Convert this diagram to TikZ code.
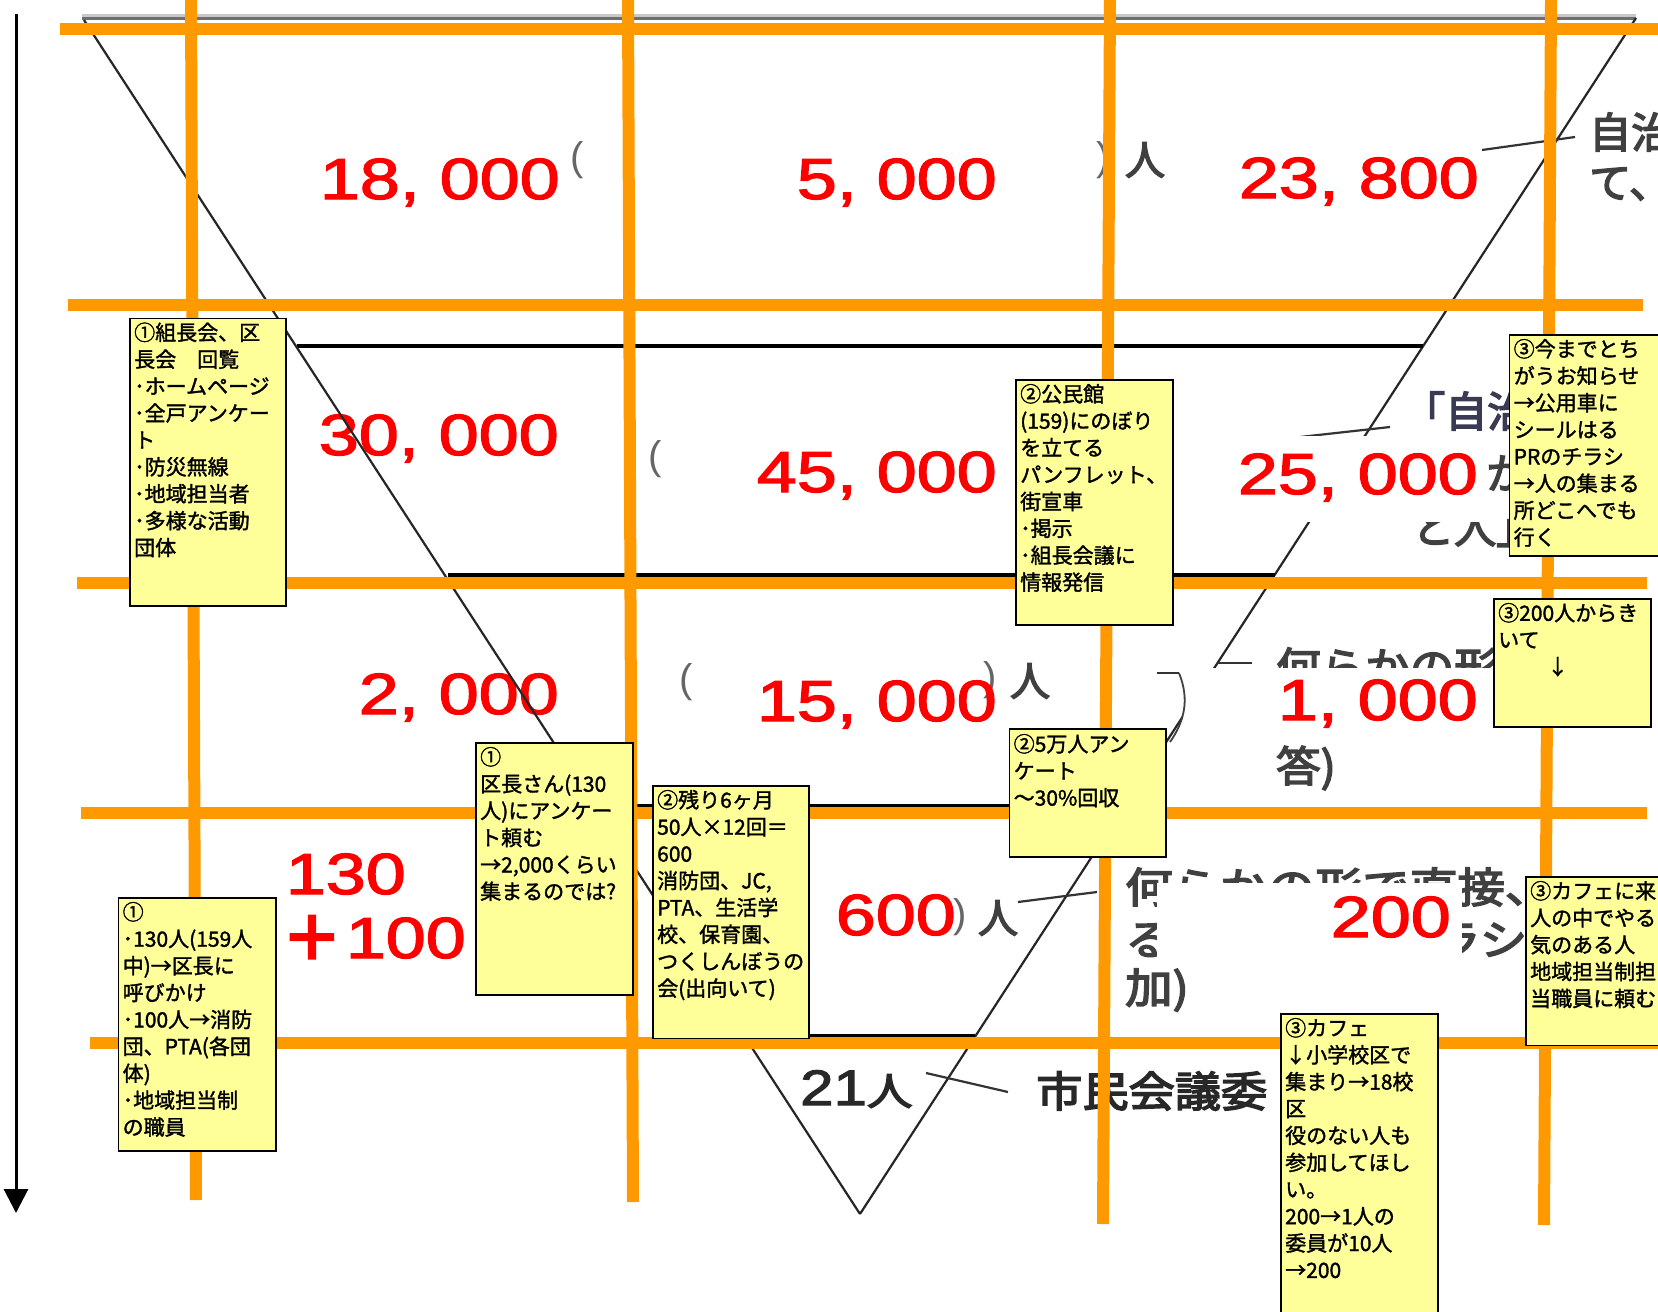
\documentclass[tikz,border=0pt]{standalone}
\usepackage{fontspec}
\setmainfont{Liberation Sans}
\newfontfamily\jp[FakeBold=1.6]{Noto Sans CJK JP}
\newfontfamily\jpf[FakeBold=3.5]{Noto Sans CJK JP}
\newfontfamily\numf[FakeBold=2]{Liberation Sans}
\usetikzlibrary{arrows.meta}
\definecolor{org}{RGB}{255,153,0}
\definecolor{ybox}{RGB}{255,255,153}
\definecolor{fragc}{RGB}{64,64,64}
\definecolor{fragd}{RGB}{40,40,40}
\begin{document}
\begin{tikzpicture}[x=1pt,y=-1pt,
  orangeline/.style={draw=org,line width=12pt},
  blackline/.style={draw=black,line width=3.5pt},
  diag/.style={draw=black!85,line width=2.2pt},
  lead/.style={draw=black!80,line width=2.2pt},
  maskbox/.style={fill=white,draw=none},
  rednum/.style={text=red,font=\numf\fontsize{58}{58}\selectfont,inner sep=0pt,anchor=base east},
  frag/.style={text=fragc,font=\jpf\fontsize{42}{42}\selectfont,inner sep=0pt,anchor=west},
  paren/.style={text=fragc!80,font=\fontsize{40}{40}\selectfont,inner sep=0pt},
  notebox/.style={draw=black,line width=1.8pt,fill=ybox,inner sep=0pt,anchor=north west},
  notetext/.style={font=\jp\fontsize{21}{26.9}\selectfont,align=left,inner sep=0pt,anchor=north west},
]
\useasboundingbox (0,0) rectangle (1658,1312);
\clip (0,0) rectangle (1658,1312);
\fill[white] (0,0) rectangle (1658,1312);

% top grey rule
\draw[draw={rgb,255:red,200;green,200;blue,200},line width=3pt] (82,15) -- (1636,15);
\draw[draw={rgb,255:red,110;green,110;blue,110},line width=2.5pt] (82,18.5) -- (1636,18.5);

% left arrow
\coordinate (arT) at (16,14);
\coordinate (arB) at (16,1213);
\draw[line width=3pt,-{Triangle[width=24pt,length=24pt]}] (arT) -- (arB);

% grey background fragments
\node[paren] (p1) at (577,160) {(};
\node[paren] (p2) at (1103,160) {)};
\node[frag,font=\jpf\fontsize{40}{40}\selectfont,anchor=center] (g1) at (1145,160) {人};
\node[frag] (g2) at (1589,132) {自治};
\node[frag] (g3) at (1589,184) {て、};
\node[paren] (p3) at (655,459) {(};
\node[frag,text=fragc!90!blue] (g4) at (1403,411) {「自治};
\node[frag] (g5) at (1486,473) {か};
\node[frag] (g6) at (1412,528) {と人」};
\node[paren] (p4) at (686,682) {(};
\node[paren] (p5) at (990,680) {)};
\node[frag,font=\jpf\fontsize{40}{40}\selectfont,anchor=center] (g7) at (1030,681) {人};
\node[frag] (g8) at (1276,667) {\scalebox{1.06}[1]{何らかの形}};
\node[frag] (g9) at (1276,768) {\scalebox{1.06}[1]{答)}};
\node[paren] (p6) at (960,917) {)};
\node[frag,font=\jpf\fontsize{40}{40}\selectfont,anchor=center] (g10) at (998,918) {人};
\node[frag] (g11) at (1125,887) {\scalebox{1.13}[1]{何らかの形で直接、}};
\node[frag] (g12) at (1125,940) {\scalebox{1.13}[1]{る}};
\node[frag] (g13) at (1433,940) {\scalebox{1.13}[1]{ラシ}};
\node[frag] (g14) at (1125,990) {\scalebox{1.13}[1]{加)}};
\node[frag,text=fragd] (g15) at (800,1089) {\scalebox{1.2}[1]{\fontsize{50}{50}\selectfont\numf 21\jpf\fontsize{38}{38}\selectfont 人}};
\node[frag,text=fragd] (g16) at (1036,1091) {\scalebox{1.1}[1]{市民会議委}};

% triangle
\coordinate (tl) at (84,20);
\coordinate (tr) at (1636,18);
\coordinate (bv) at (860,1214);
\draw[diag] (tr) -- (bv);
% horizontal black levels
\coordinate (h1a) at (297,346);  \coordinate (h1b) at (1423,346);
\coordinate (h2a) at (448,575);  \coordinate (h2b) at (1275,575);
\coordinate (h3a) at (595,806);  \coordinate (h3b) at (1125,806);
\coordinate (h4a) at (745,1036); \coordinate (h4b) at (975,1036);
\draw[blackline] (h1a) -- (h1b);
\draw[blackline] (h2a) -- (h2b);
\draw[blackline] (h3a) -- (h3b);
\draw[blackline] (h4a) -- (h4b);

% leader lines
\coordinate (l1a) at (1482,150); \coordinate (l1b) at (1575,137);
\coordinate (l2a) at (1300,437); \coordinate (l2b) at (1390,427);
\coordinate (l3a) at (1217,663); \coordinate (l3b) at (1252,663);
\coordinate (l4a) at (1157,673); \coordinate (l4b) at (1179,673);
\coordinate (l5a) at (1018,902); \coordinate (l5b) at (1097,892);
\coordinate (l6a) at (926,1073); \coordinate (l6b) at (1008,1092);
\draw[lead] (l1a) -- (l1b);
\draw[lead] (l2a) -- (l2b);
\draw[lead] (l3a) -- (l3b);
\draw[lead] (l5a) -- (l5b);
\draw[lead] (l6a) -- (l6b);

% white masks
\fill[maskbox] (1298,436) rectangle (1483,522);
\fill[maskbox] (1183,668) rectangle (1493,745);
\fill[maskbox] (1157,883) rectangle (1462,964);
\draw[lead] (l4a) -- (l4b);
\draw[draw=fragc,line width=1.8pt] (l4b) .. controls (1190,700) and (1184,722) .. (1170,742);

% red numbers
\node[rednum] (n1) at (560,199) {\scalebox{1.24}[1]{18, 000}};
\node[rednum] (n2) at (997,199) {\scalebox{1.24}[1]{5, 000}};
\node[rednum] (n3) at (1479,198) {\scalebox{1.24}[1]{23, 800}};
\node[rednum] (n4) at (559,455) {\scalebox{1.24}[1]{30, 000}};
\node[rednum] (n5) at (997,492) {\scalebox{1.24}[1]{45, 000}};
\node[rednum] (n6) at (1478,494) {\scalebox{1.24}[1]{25, 000}};
\node[rednum] (n7) at (559,714) {\scalebox{1.24}[1]{2, 000}};
\node[rednum] (n8) at (997,721) {\scalebox{1.24}[1]{15, 000}};
\node[rednum] (n9) at (1478,720) {\scalebox{1.24}[1]{1, 000}};
\node[rednum] (n10) at (406,894) {\scalebox{1.24}[1]{130}};
\node[rednum] (n11) at (466,958) {\scalebox{1.24}[1]{100}};
\node[text=red,font=\numf\fontsize{88}{88}\selectfont,inner sep=0pt] (n11p) at (312,941) {+};
\node[rednum] (n12) at (956,935) {\scalebox{1.24}[1]{600}};
\node[rednum] (n13) at (1451,937) {\scalebox{1.24}[1]{200}};

% left diagonal (drawn over the numbers)
\draw[diag] (tl) -- (bv);

% orange grid
\draw[orangeline] (60,29) -- (1658,29);
\draw[orangeline] (68,305) -- (1643,305);
\draw[orangeline] (77,583) -- (1647,583);
\draw[orangeline] (81,813) -- (1647,813);
\draw[orangeline] (90,1043) -- (1658,1043);
\draw[orangeline] (191,0) -- (196,1200);
\draw[orangeline] (628,0) -- (633,1202);
\draw[orangeline] (1110,0) -- (1103,1224);
\draw[orangeline] (1551,0) -- (1544,1225);

% yellow notes
\node[notebox,minimum width=156pt,minimum height=287.5pt] (b1) at (129,317.5) {};
\node[notetext] (t1) at ([xshift=5pt,yshift=-3.6pt]b1.north west) {\rule{0pt}{19pt}①組長会、区\\長会　回覧\\･ホームページ\\･全戸アンケー\\ト\\･防災無線\\･地域担当者\\･多様な活動\\団体};

\node[notebox,minimum width=157pt,minimum height=252pt] (b2) at (475,742) {};
\node[notetext] (t2) at ([xshift=5pt,yshift=-3.6pt]b2.north west) {\rule{0pt}{19pt}①\\区長さん(130\\人)にアンケー\\ト頼む\\→2,000くらい\\集まるのでは?};

\node[notebox,minimum width=157.5pt,minimum height=253pt] (b3) at (117.5,897) {};
\node[notetext] (t3) at ([xshift=5pt,yshift=-3.6pt]b3.north west) {\rule{0pt}{19pt}①\\･130人(159人\\中)→区長に\\呼びかけ\\･100人→消防\\団、PTA(各団\\体)\\･地域担当制\\の職員};

\node[notebox,minimum width=156pt,minimum height=252.5pt] (b4) at (652,785) {};
\node[notetext] (t4) at ([xshift=5pt,yshift=-3.6pt]b4.north west) {\rule{0pt}{19pt}②残り6ヶ月\\50人×12回＝\\600\\消防団、JC,\\PTA、生活学\\校、保育園、\\つくしんぼうの\\会(出向いて)};

\node[notebox,minimum width=157pt,minimum height=245pt] (b5) at (1015,379) {};
\node[notetext] (t5) at ([xshift=5pt,yshift=-3.6pt]b5.north west) {\rule{0pt}{19pt}②公民館\\(159)にのぼり\\を立てる\\パンフレット、\\街宣車\\･掲示\\･組長会議に\\情報発信};

\node[notebox,minimum width=156.5pt,minimum height=128pt] (b6) at (1008.5,728) {};
\node[notetext] (t6) at ([xshift=5pt,yshift=-4.6pt]b6.north west) {\rule{0pt}{19pt}②5万人アン\\ケート\\～30\%回収};

\node[notebox,minimum width=170pt,minimum height=221pt] (b7) at (1508.5,334) {};
\node[notetext] (t7) at ([xshift=5pt,yshift=-3.6pt]b7.north west) {\rule{0pt}{19pt}③今までとち\\がうお知らせ\\→公用車に\\シールはる\\PRのチラシ\\→人の集まる\\所どこへでも\\行く};

\node[notebox,minimum width=157pt,minimum height=128pt] (b8) at (1493,598) {};
\node[notetext] (t8) at ([xshift=5pt,yshift=-3.6pt]b8.north west) {\rule{0pt}{19pt}③200人からき\\いて\\\hspace*{49pt}↓};

\node[notebox,minimum width=160pt,minimum height=168.5pt] (b9) at (1525,876) {};
\node[notetext] (t9) at ([xshift=5pt,yshift=-3.6pt]b9.north west) {\rule{0pt}{19pt}③カフェに来た\\人の中でやる\\気のある人\\地域担当制担\\当職員に頼む};

\node[notebox,minimum width=157pt,minimum height=320pt] (b10) at (1280,1013) {};
\node[notetext] (t10) at ([xshift=5pt,yshift=-3.6pt]b10.north west) {\rule{0pt}{19pt}③カフェ\\↓小学校区で\\集まり→18校\\区\\役のない人も\\参加してほし\\い。\\200→1人の\\委員が10人\\→200};
\end{tikzpicture}
\end{document}
